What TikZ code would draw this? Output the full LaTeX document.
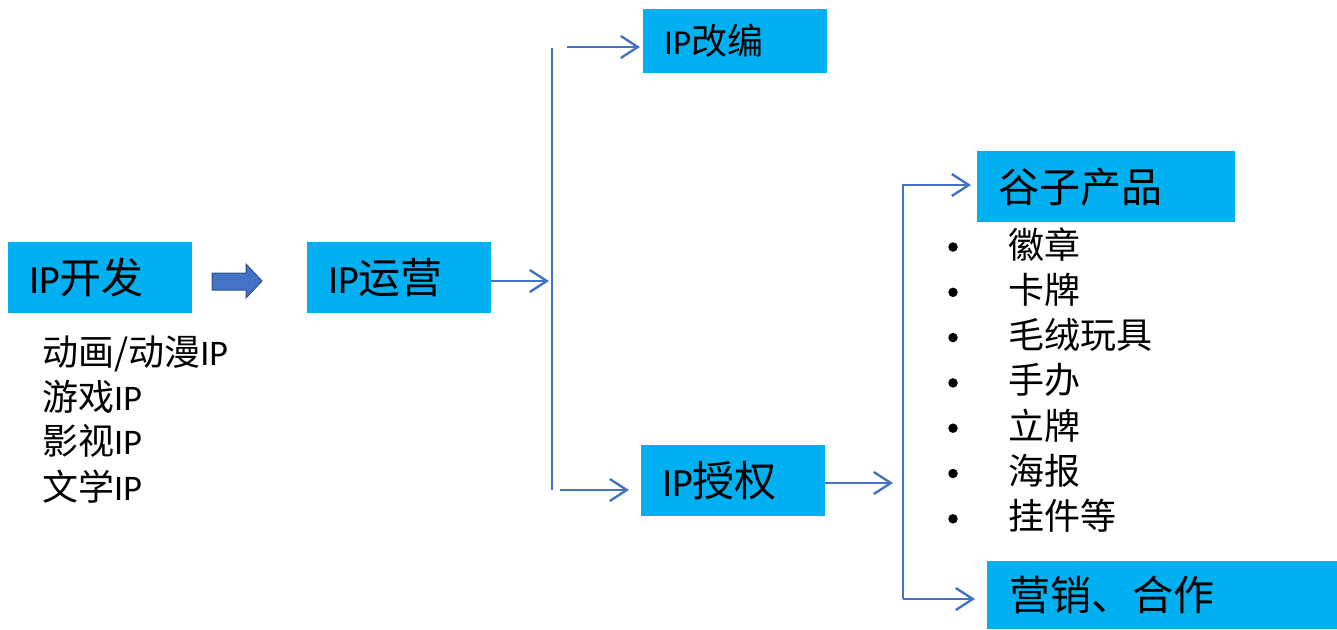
\documentclass[tikz,border=0pt]{standalone}
\usepackage{fontspec}
\setmainfont{Carlito}
\newfontfamily\cjk{Noto Sans CJK SC}
\usetikzlibrary{arrows.meta}
\definecolor{boxblue}{HTML}{00B0F0}
\definecolor{linkblue}{HTML}{4472C4}
\definecolor{arrowedge}{HTML}{2F528F}

\tikzset{
  stage/.style={fill=boxblue, anchor=north west, inner xsep=21pt, inner ysep=0pt,
    align=left, font=\fontsize{40}{46}\selectfont},
  link/.style={draw=linkblue, line width=2.4pt, line join=miter,
    -{Straight Barb[length=17pt,width=22pt]}},
  bar/.style={draw=linkblue, line width=2.4pt},
  listtext/.style={anchor=base west, inner sep=0pt, font=\cjk\fontsize{36}{45}\selectfont},
  dot/.style={circle, fill=black, inner sep=0pt, minimum size=9.5pt}
}

\begin{document}
\begin{tikzpicture}[x=1pt, y=-1pt]
\useasboundingbox (0,0) rectangle (1337,629);

% stage boxes
\node[stage, minimum width=184pt, minimum height=71pt, text width=142pt] (dev) at (8,242) {IP{\cjk\fontsize{42}{46}\selectfont 开发}};
\node[stage, minimum width=184pt, minimum height=71pt, text width=142pt] (ops) at (307,242) {IP{\cjk\fontsize{42}{46}\selectfont 运营}};
\node[stage, minimum width=184pt, minimum height=64pt, text width=142pt, font=\fontsize{35}{40}\selectfont] (adapt) at (643,9) {IP{\cjk\fontsize{36}{40}\selectfont 改编}};
\node[stage, minimum width=184pt, minimum height=71pt, text width=142pt] (lic) at (641,445) {IP{\cjk\fontsize{42}{46}\selectfont 授权}};
\node[stage, minimum width=258pt, minimum height=71pt, text width=216pt, inner xsep=20pt, font=\cjk\fontsize{41}{46}\selectfont] (goods) at (977,151) {谷子产品};
\node[stage, minimum width=350pt, minimum height=68pt, text width=306pt, inner xsep=22pt, font=\cjk\fontsize{41}{46}\selectfont] (mkt) at (987,561) {营销、合作};

% block arrow between development and operation
\draw[fill=linkblue, draw=arrowedge, line width=1pt]
  (212,273) -- (246,273) -- (246,264) -- (262,281) -- (246,298) -- (246,290) -- (212,290) -- cycle;

% first branch
\coordinate (j1) at (552,48);
\coordinate (j2) at (552,490);
\coordinate (a1) at (567,47);
\coordinate (a2) at (560,490);
\draw[bar] (j1) -- (j2);
\draw[link] (ops.east |- 0,281) -- (549,281);
\draw[link] (a1) -- ([xshift=-3pt]adapt.west |- a1);
\draw[link] (a2) -- ([xshift=-12pt]lic.west |- a2);

% second branch
\coordinate (j3) at (903,185);
\coordinate (j4) at (903,599);
\draw[link] (lic.east |- 0,483) -- (893,483);
\draw[link] (j4) -- (j3) -- ([xshift=-6pt]goods.west |- j3);
\draw[link] (j4) -- ([xshift=-12pt]mkt.west |- j4);

% IP sources
\node[listtext] (g1) at (42,365) {动画/动漫{\rmfamily IP}};
\node[listtext] (g2) at (42,410) {游戏{\rmfamily IP}};
\node[listtext] (g3) at (42,454) {影视{\rmfamily IP}};
\node[listtext] (g4) at (42,500) {文学{\rmfamily IP}};

% merchandise list
\foreach \t [count=\i] in {徽章,卡牌,毛绒玩具,手办,立牌,海报,挂件等} {
  \pgfmathsetmacro{\yc}{245+45.3*(\i-1)}
  \node[dot] (b\i) at (953,\yc+2) {};
  \node[listtext] (m\i) at (1008,\yc+13) {\t};
}
\end{tikzpicture}
\end{document}
